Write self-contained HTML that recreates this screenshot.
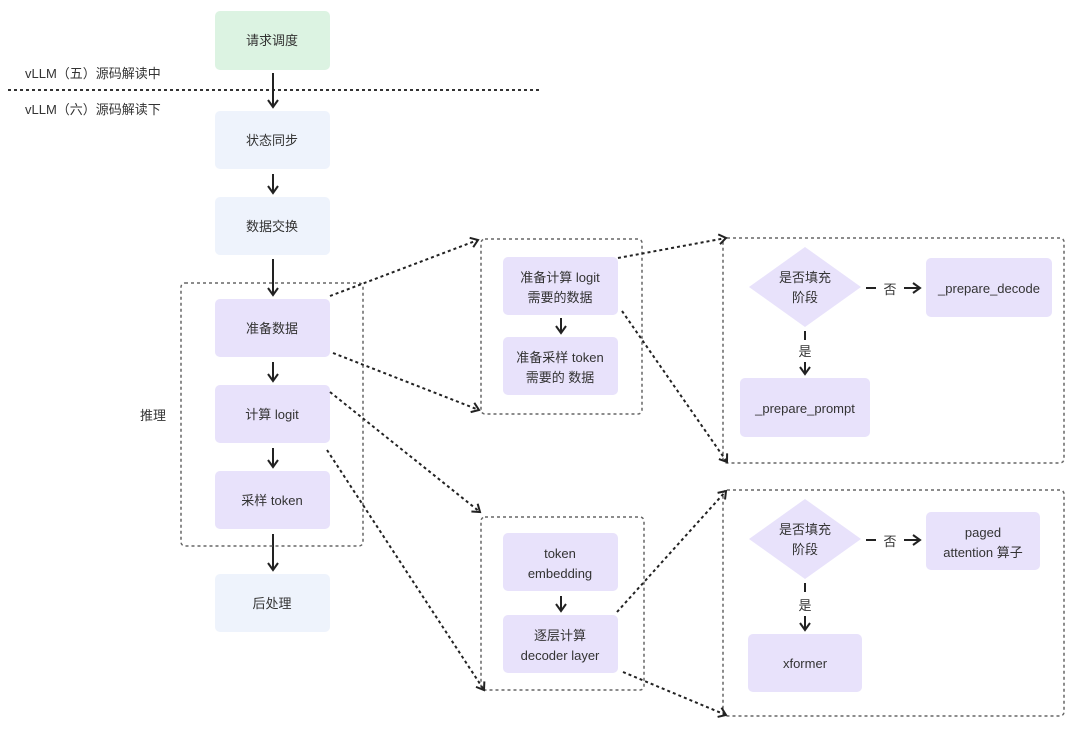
<!DOCTYPE html>
<html><head><meta charset="utf-8"><style>
html,body{margin:0;padding:0;background:#fff;}
svg{display:block;font-family:"Liberation Sans","Noto Sans CJK SC",sans-serif;}
text{font-size:13px;fill:#333;}
</style></head><body>
<svg width="1080" height="729" viewBox="0 0 1080 729" xmlns="http://www.w3.org/2000/svg">
<defs>
<marker id="a" markerWidth="12" markerHeight="12" refX="9" refY="6" orient="auto" markerUnits="userSpaceOnUse">
<path d="M2,1 L9,6 L2,11" fill="none" stroke="#222" stroke-width="2"/>
</marker>
</defs>
<g text-anchor="middle">
<!-- left boxes -->
<rect x="215" y="11" width="115" height="59" rx="5" fill="#dcf3e2"/><text x="272" y="45">请求调度</text>
<rect x="215" y="111" width="115" height="58" rx="5" fill="#eef3fc"/><text x="272" y="145">状态同步</text>
<rect x="215" y="197" width="115" height="58" rx="5" fill="#eef3fc"/><text x="272" y="231">数据交换</text>
<rect x="215" y="299" width="115" height="58" rx="5" fill="#e8e2fb"/><text x="272" y="333">准备数据</text>
<rect x="215" y="385" width="115" height="58" rx="5" fill="#e8e2fb"/><text x="272" y="419">计算 logit</text>
<rect x="215" y="471" width="115" height="58" rx="5" fill="#e8e2fb"/><text x="272" y="505">采样 token</text>
<rect x="215" y="574" width="115" height="58" rx="5" fill="#eef3fc"/><text x="272" y="608">后处理</text>
</g>
<text x="25" y="78" font-size="13">vLLM（五）源码解读中</text>
<text x="25" y="114" font-size="13">vLLM（六）源码解读下</text>
<text x="140" y="420">推理</text>
<line x1="8" y1="90" x2="540" y2="90" stroke="#333" stroke-width="2" stroke-dasharray="3,3"/>
<g stroke="#222" stroke-width="2" fill="none">
<line x1="273" y1="73" x2="273" y2="107" marker-end="url(#a)"/>
<line x1="273" y1="174" x2="273" y2="193" marker-end="url(#a)"/>
<line x1="273" y1="259" x2="273" y2="295" marker-end="url(#a)"/>
<line x1="273" y1="362" x2="273" y2="381" marker-end="url(#a)"/>
<line x1="273" y1="448" x2="273" y2="467" marker-end="url(#a)"/>
<line x1="273" y1="534" x2="273" y2="570" marker-end="url(#a)"/>
<line x1="561" y1="318" x2="561" y2="333" marker-end="url(#a)"/>
<line x1="561" y1="596" x2="561" y2="611" marker-end="url(#a)"/>
</g>
<g fill="none" stroke="#666" stroke-width="1.5" stroke-dasharray="3,3">
<rect x="181" y="283" width="182" height="263" rx="4"/>
<rect x="481" y="239" width="161" height="175" rx="4"/>
<rect x="481" y="517" width="163" height="173" rx="4"/>
<rect x="723" y="238" width="341" height="225" rx="4"/>
<rect x="723" y="490" width="341" height="226" rx="4"/>
</g>
<g fill="none" stroke="#222" stroke-width="2" stroke-dasharray="3,3">
<line x1="330" y1="296" x2="478" y2="240" marker-end="url(#a)"/>
<line x1="333" y1="353" x2="479" y2="410" marker-end="url(#a)"/>
<line x1="330" y1="392" x2="480" y2="512" marker-end="url(#a)"/>
<line x1="327" y1="450" x2="484" y2="690" marker-end="url(#a)"/>
<line x1="618" y1="258" x2="726" y2="238" marker-end="url(#a)"/>
<line x1="622" y1="311" x2="727" y2="462" marker-end="url(#a)"/>
<line x1="617" y1="612" x2="726" y2="491" marker-end="url(#a)"/>
<line x1="623" y1="672" x2="726" y2="715" marker-end="url(#a)"/>
</g>
<g text-anchor="middle">
<rect x="503" y="257" width="115" height="58" rx="5" fill="#e8e2fb"/><text x="560" y="282">准备计算 logit</text><text x="560" y="302">需要的数据</text>
<rect x="503" y="337" width="115" height="58" rx="5" fill="#e8e2fb"/><text x="560" y="362">准备采样 token</text><text x="560" y="382">需要的 数据</text>
<rect x="503" y="533" width="115" height="58" rx="5" fill="#e8e2fb"/><text x="560" y="558">token</text><text x="560" y="578">embedding</text>
<rect x="503" y="615" width="115" height="58" rx="5" fill="#e8e2fb"/><text x="560" y="640">逐层计算</text><text x="560" y="660">decoder layer</text>

<polygon points="805,247 861,287 805,327 749,287" fill="#e8e2fb"/><text x="805" y="282">是否填充</text><text x="805" y="302">阶段</text>
<rect x="926" y="258" width="126" height="59" rx="5" fill="#e8e2fb"/><text x="989" y="293">_prepare_decode</text>
<rect x="740" y="378" width="130" height="59" rx="5" fill="#e8e2fb"/><text x="805" y="413">_prepare_prompt</text>
<text x="890" y="294">否</text><text x="805" y="356">是</text>

<polygon points="805,499 861,539 805,579 749,539" fill="#e8e2fb"/><text x="805" y="534">是否填充</text><text x="805" y="554">阶段</text>
<rect x="926" y="512" width="114" height="58" rx="5" fill="#e8e2fb"/><text x="983" y="537">paged</text><text x="983" y="557">attention 算子</text>
<rect x="748" y="634" width="114" height="58" rx="5" fill="#e8e2fb"/><text x="805" y="668">xformer</text>
<text x="890" y="546">否</text><text x="805" y="610">是</text>
</g>
<g stroke="#222" stroke-width="2" fill="none">
<line x1="866" y1="288" x2="876" y2="288"/>
<line x1="904" y1="288" x2="920" y2="288" marker-end="url(#a)"/>
<line x1="805" y1="331" x2="805" y2="340"/>
<line x1="805" y1="362" x2="805" y2="374" marker-end="url(#a)"/>
<line x1="866" y1="540" x2="876" y2="540"/>
<line x1="904" y1="540" x2="920" y2="540" marker-end="url(#a)"/>
<line x1="805" y1="583" x2="805" y2="592"/>
<line x1="805" y1="616" x2="805" y2="630" marker-end="url(#a)"/>
</g>
</svg>
</body></html>
